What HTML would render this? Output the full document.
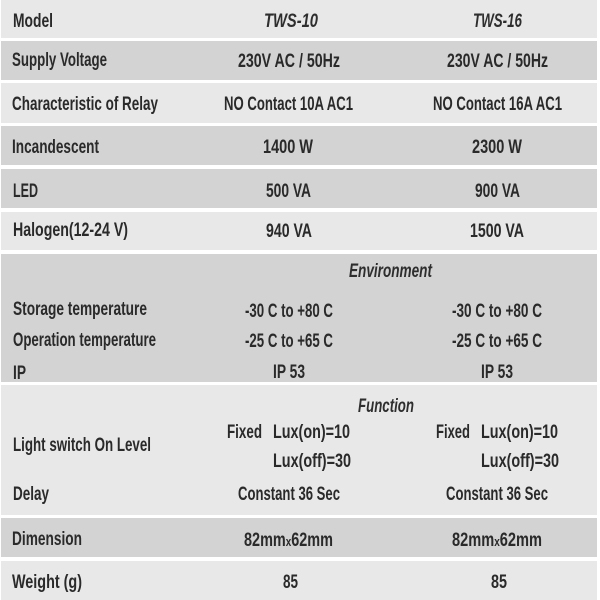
<!DOCTYPE html>
<html>
<head>
<meta charset="utf-8">
<style>
html,body{margin:0;padding:0;background:#fff;}
svg{display:block;}
text{font-family:"Liberation Sans",sans-serif;font-size:19px;font-weight:bold;fill:#2a2a2a;}
text.i{font-style:italic;font-weight:bold;fill:#2e2e2e;}
</style>
</head>
<body>
<svg width="600" height="600" viewBox="0 0 600 600" xmlns="http://www.w3.org/2000/svg">
<rect x="0" y="0" width="600" height="600" fill="#ffffff"/>
<!-- rows -->
<rect x="1" y="0" width="596" height="38" fill="#e8e8e8"/>
<rect x="1" y="41" width="596" height="39" fill="#d3d3d3"/>
<rect x="1" y="83" width="596" height="40" fill="#e8e8e8"/>
<rect x="1" y="126" width="596" height="39" fill="#d3d3d3"/>
<rect x="1" y="169" width="596" height="39" fill="#d3d3d3"/>
<rect x="1" y="212" width="596" height="38" fill="#e8e8e8"/>
<rect x="1" y="254" width="596" height="128" fill="#d3d3d3"/>
<rect x="1" y="385" width="596" height="130" fill="#e8e8e8"/>
<rect x="1" y="518" width="596" height="39" fill="#d3d3d3"/>
<rect x="1" y="561" width="596" height="39" fill="#e8e8e8"/>

<!-- column 1 -->
<text x="13" y="27" textLength="40" lengthAdjust="spacingAndGlyphs">Model</text>
<text x="12" y="66" textLength="95" lengthAdjust="spacingAndGlyphs">Supply Voltage</text>
<text x="12" y="110" textLength="146" lengthAdjust="spacingAndGlyphs">Characteristic of Relay</text>
<text x="12" y="153" textLength="87" lengthAdjust="spacingAndGlyphs">Incandescent</text>
<text x="13" y="197" textLength="25" lengthAdjust="spacingAndGlyphs">LED</text>
<text x="13" y="236" textLength="115" lengthAdjust="spacingAndGlyphs">Halogen(12-24 V)</text>
<text x="13" y="315" textLength="134" lengthAdjust="spacingAndGlyphs">Storage temperature</text>
<text x="13" y="346" textLength="143" lengthAdjust="spacingAndGlyphs">Operation temperature</text>
<text x="13" y="379" textLength="13" lengthAdjust="spacingAndGlyphs">IP</text>
<text x="13" y="451" textLength="138" lengthAdjust="spacingAndGlyphs">Light switch On Level</text>
<text x="13" y="500" textLength="36" lengthAdjust="spacingAndGlyphs">Delay</text>
<text x="12" y="545" textLength="70" lengthAdjust="spacingAndGlyphs">Dimension</text>
<text x="12" y="588" textLength="70" lengthAdjust="spacingAndGlyphs">Weight (g)</text>

<!-- column 2 -->
<text class="i" x="264" y="27" textLength="54" lengthAdjust="spacingAndGlyphs">TWS-10</text>
<text x="238" y="67" textLength="102" lengthAdjust="spacingAndGlyphs">230V AC / 50Hz</text>
<text x="224" y="110" textLength="129" lengthAdjust="spacingAndGlyphs">NO Contact 10A AC1</text>
<text x="263" y="153" textLength="50" lengthAdjust="spacingAndGlyphs">1400 W</text>
<text x="266" y="197" textLength="45" lengthAdjust="spacingAndGlyphs">500 VA</text>
<text x="266" y="237" textLength="46" lengthAdjust="spacingAndGlyphs">940 VA</text>
<text x="245" y="317" textLength="88" lengthAdjust="spacingAndGlyphs">-30 C to +80 C</text>
<text x="245" y="347" textLength="88" lengthAdjust="spacingAndGlyphs">-25 C to +65 C</text>
<text x="273" y="378" textLength="32" lengthAdjust="spacingAndGlyphs">IP 53</text>
<text x="227" y="438" textLength="35" lengthAdjust="spacingAndGlyphs">Fixed</text>
<text x="273" y="438" textLength="77" lengthAdjust="spacingAndGlyphs">Lux(on)=10</text>
<text x="273" y="467" textLength="78" lengthAdjust="spacingAndGlyphs">Lux(off)=30</text>
<text x="238" y="500" textLength="102" lengthAdjust="spacingAndGlyphs">Constant 36 Sec</text>
<text x="244" y="546" textLength="89" lengthAdjust="spacingAndGlyphs">82mm<tspan font-size="13">x</tspan>62mm</text>
<text x="283" y="588" textLength="15" lengthAdjust="spacingAndGlyphs">85</text>

<!-- column 3 -->
<text class="i" x="473" y="27" textLength="49" lengthAdjust="spacingAndGlyphs">TWS-16</text>
<text x="447" y="67" textLength="101" lengthAdjust="spacingAndGlyphs">230V AC / 50Hz</text>
<text x="433" y="110" textLength="129" lengthAdjust="spacingAndGlyphs">NO Contact 16A AC1</text>
<text x="472" y="153" textLength="50" lengthAdjust="spacingAndGlyphs">2300 W</text>
<text x="475" y="197" textLength="45" lengthAdjust="spacingAndGlyphs">900 VA</text>
<text x="470" y="237" textLength="54" lengthAdjust="spacingAndGlyphs">1500 VA</text>
<text class="i" x="349" y="277" textLength="83" lengthAdjust="spacingAndGlyphs">Environment</text>
<text x="452" y="317" textLength="90" lengthAdjust="spacingAndGlyphs">-30 C to +80 C</text>
<text x="452" y="347" textLength="90" lengthAdjust="spacingAndGlyphs">-25 C to +65 C</text>
<text x="481" y="378" textLength="32" lengthAdjust="spacingAndGlyphs">IP 53</text>
<text class="i" x="358" y="412" textLength="56" lengthAdjust="spacingAndGlyphs">Function</text>
<text x="436" y="438" textLength="34" lengthAdjust="spacingAndGlyphs">Fixed</text>
<text x="481" y="438" textLength="77" lengthAdjust="spacingAndGlyphs">Lux(on)=10</text>
<text x="481" y="467" textLength="78" lengthAdjust="spacingAndGlyphs">Lux(off)=30</text>
<text x="446" y="500" textLength="102" lengthAdjust="spacingAndGlyphs">Constant 36 Sec</text>
<text x="452" y="546" textLength="90" lengthAdjust="spacingAndGlyphs">82mm<tspan font-size="13">x</tspan>62mm</text>
<text x="491" y="588" textLength="16" lengthAdjust="spacingAndGlyphs">85</text>
</svg>
</body>
</html>
